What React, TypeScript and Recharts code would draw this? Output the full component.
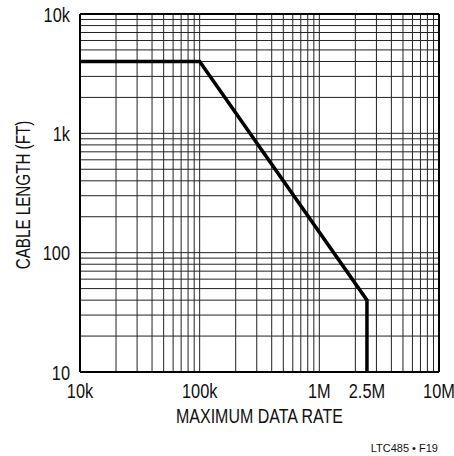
import React from 'react'
import { LineChart, Line, XAxis, YAxis, CartesianGrid, ReferenceLine, Label } from 'recharts'

// axis ticks
const rateTicks = [10000, 100000, 1000000, 2500000, 10000000]
const rateLabels = ['10k', '100k', '1M', '2.5M', '10M']
const lengthTicks = [10, 100, 1000, 10000]
const lengthLabels = ['10', '100', '1k', '10k']

// cable length vs max data rate
const rates = [10000, 100000, 2500000, 2500000]
const lengths = [4000, 4000, 40, 10]

const data = rates.map((rate, i) => ({ rate, length: lengths[i] }))

// log grid: 1..9 within each decade
const steps = [1, 2, 3, 4, 5, 6, 7, 8, 9]
const gridX = [10000, 100000, 1000000].flatMap(d => steps.map(s => d * s)).concat(10000000)
const gridY = [10, 100, 1000].flatMap(d => steps.map(s => d * s)).concat(10000)

const font = "'Liberation Sans', Arial, sans-serif"
const ink = '#111'

const label = (ticks: number[], labels: string[], v: number) => {
  const i = ticks.indexOf(v)
  return i >= 0 ? labels[i] : ''
}

// condensed text: the original uses a narrow face
const XTick = (props: any) => {
  const { x, y, payload } = props
  return (
    <text transform={`translate(${x},${y + 26}) scale(0.84,1)`} textAnchor="middle" fontSize={19.5} fontFamily={font} fill={ink}>
      {label(rateTicks, rateLabels, payload.value)}
    </text>
  )
}

const YTick = (props: any) => {
  const { x, y, payload } = props
  return (
    <text transform={`translate(${x},${y + 7.5}) scale(0.84,1)`} textAnchor="end" fontSize={19.5} fontFamily={font} fill={ink}>
      {label(lengthTicks, lengthLabels, payload.value)}
    </text>
  )
}

const XTitle = (props: any) => {
  const vb = props.viewBox
  const cx = vb.x + vb.width / 2
  return (
    <text transform={`translate(${cx},423) scale(0.82,1)`} textAnchor="middle" fontSize={19.5} fontFamily={font} fill={ink}>
      MAXIMUM DATA RATE
    </text>
  )
}

const YTitle = (props: any) => {
  const vb = props.viewBox
  const cy = vb.y + vb.height / 2 + 2
  return (
    <text transform={`translate(30,${cy}) rotate(-90) scale(0.78,1)`} textAnchor="middle" fontSize={19.5} fontFamily={font} fill={ink}>
      CABLE LENGTH (FT)
    </text>
  )
}

const Footer = (props: any) => {
  const vb = props.viewBox
  return (
    <text x={vb.x + vb.width - 1} y={452} textAnchor="end" fontSize={11} fontFamily={font} fill={ink}>
      LTC485 • F19
    </text>
  )
}

const App = () => {
  return (
    <div style={{ position: 'absolute', left: 0, top: 0, background: '#fff' }}>
      <LineChart width={454} height={456} data={data} margin={{ top: 14, right: 15, left: 0, bottom: 0 }}>
        <CartesianGrid stroke="#222" strokeWidth={1} horizontalValues={gridY} verticalValues={gridX} />
        <XAxis
          dataKey="rate"
          type="number"
          scale="log"
          domain={[10000, 10000000]}
          ticks={rateTicks}
          height={84}
          axisLine={{ stroke: '#000', strokeWidth: 2 }}
          tickLine={false}
          tickSize={0}
          tickMargin={0}
          interval={0}
          tick={XTick}
        >
          <Label content={XTitle} />
          <Label content={Footer} />
        </XAxis>
        <YAxis
          dataKey="length"
          type="number"
          scale="log"
          domain={[10, 10000]}
          ticks={lengthTicks}
          width={80}
          axisLine={{ stroke: '#000', strokeWidth: 2 }}
          tickLine={false}
          tickSize={0}
          tickMargin={10}
          interval={0}
          tick={YTick}
        >
          <Label content={YTitle} />
        </YAxis>
        <ReferenceLine x={10000000} stroke="#000" strokeWidth={2} />
        <ReferenceLine y={10000} stroke="#000" strokeWidth={2} />
        <Line dataKey="length" type="linear" stroke="#000" strokeWidth={3.5} dot={false} isAnimationActive={false} />
      </LineChart>
    </div>
  )
}

export default App
